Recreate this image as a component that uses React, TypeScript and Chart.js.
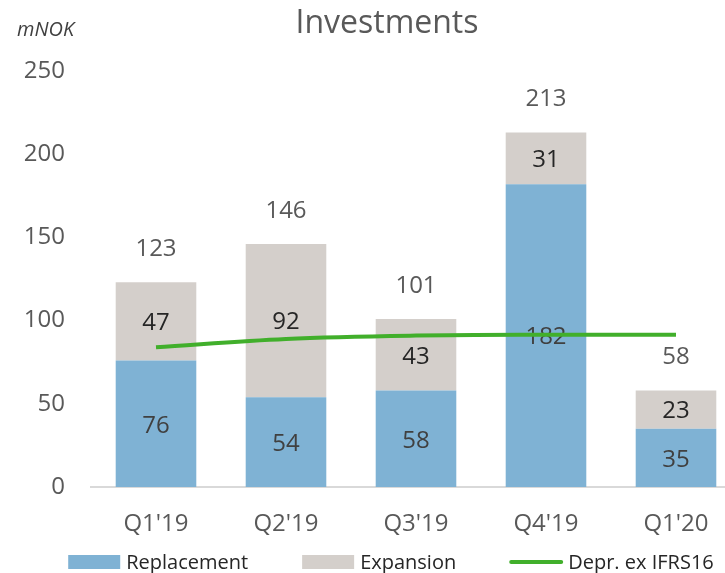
import React, { useEffect, useRef } from "react";
import { Chart, registerables } from "chart.js";

Chart.register(...registerables);

const categories = ["Q1'19", "Q2'19", "Q3'19", "Q4'19", "Q1'20"];
const replacement = [76, 54, 58, 182, 35];
const expansion = [47, 92, 43, 31, 23];
const totals = [123, 146, 101, 213, 58];
const depreciation = [84, 89, 91, 91.5, 91.5];
const yTicks = [0, 50, 100, 150, 200, 250];

const FONT = '"Open Sans", "DejaVu Sans", sans-serif';
const BLUE = "#7FB2D4";
const GREY = "#D4CFCB";
const GREEN = "#41AF2B";

const labelPlugin = {
  id: "barLabels",
  afterDatasetDraw(chart: any, args: any) {
    const ds = chart.data.datasets[args.index];
    if (ds.type === "line") return;
    const ctx = chart.ctx;
    ctx.save();
    ctx.font = `24px ${FONT}`;
    ctx.textAlign = "center";
    ctx.textBaseline = "middle";
    ctx.fillStyle = args.index === 0 ? "#404040" : "#262626";
    args.meta.data.forEach((bar: any, i: number) => {
      const p = bar.getProps(["x", "y", "base"], true);
      ctx.fillText(String(ds.data[i]), p.x, (p.y + p.base) / 2 + 2);
    });
    if (args.index === 1) {
      ctx.fillStyle = "#595959";
      args.meta.data.forEach((bar: any, i: number) => {
        const p = bar.getProps(["x", "y"], true);
        ctx.fillText(String(totals[i]), p.x, p.y - 33);
      });
    }
    ctx.restore();
  },
};

const decorPlugin = {
  id: "decor",
  afterDraw(chart: any) {
    const ctx = chart.ctx;
    ctx.save();
    // title
    ctx.font = `32px ${FONT}`;
    ctx.fillStyle = "#595959";
    ctx.textAlign = "center";
    ctx.textBaseline = "alphabetic";
    ctx.fillText("Investments", 387, 33);
    // unit
    ctx.font = `italic 20px ${FONT}`;
    ctx.fillStyle = "#404040";
    ctx.textAlign = "left";
    ctx.fillText("mNOK", 17, 36);
    // legend
    ctx.font = `20px ${FONT}`;
    ctx.textBaseline = "middle";
    const boxW = 52;
    const gapText = 6;
    const gap = 54;
    const items = chart.data.datasets.map((d: any) => ({
      label: d.label,
      color: d.type === "line" ? d.borderColor : d.backgroundColor,
      line: d.type === "line",
      w: ctx.measureText(d.label).width,
    }));
    const total =
      items.reduce((s: number, it: any) => s + boxW + gapText + it.w, 0) +
      gap * (items.length - 1);
    let x = 391 - total / 2;
    const y = 562;
    items.forEach((it: any) => {
      if (it.line) {
        ctx.strokeStyle = it.color;
        ctx.lineWidth = 4;
        ctx.lineCap = "round";
        ctx.beginPath();
        ctx.moveTo(x + 1, y);
        ctx.lineTo(x + boxW - 1, y);
        ctx.stroke();
      } else {
        ctx.fillStyle = it.color;
        ctx.fillRect(x, y - 7, boxW, 14);
      }
      ctx.fillStyle = "#262626";
      ctx.fillText(it.label, x + boxW + gapText, y + 1);
      x += boxW + gapText + it.w + gap;
    });
    ctx.restore();
  },
};

export default function App() {
  const ref = useRef<HTMLCanvasElement | null>(null);
  useEffect(() => {
    if (!ref.current) return;
    const chart = new Chart(ref.current, {
      type: "bar",
      data: {
        labels: categories,
        datasets: [
          {
            type: "bar",
            label: "Replacement",
            data: replacement,
            backgroundColor: BLUE,
            stack: "inv",
            order: 2,
            barPercentage: 0.62,
            categoryPercentage: 1,
          },
          {
            type: "bar",
            label: "Expansion",
            data: expansion,
            backgroundColor: GREY,
            stack: "inv",
            order: 2,
            barPercentage: 0.62,
            categoryPercentage: 1,
          },
          {
            type: "line",
            label: "Depr. ex IFRS16",
            data: depreciation,
            borderColor: GREEN,
            backgroundColor: GREEN,
            borderWidth: 4,
            pointRadius: 0,
            tension: 0.35,
            stack: "depr",
            order: 0,
          } as any,
        ],
      },
      options: {
        animation: false,
        responsive: true,
        maintainAspectRatio: false,
        layout: { padding: { top: 71, left: 0, right: 4, bottom: 36 } },
        plugins: {
          legend: { display: false },
          title: { display: false },
          tooltip: { enabled: false },
        },
        scales: {
          x: {
            stacked: true,
            offset: true,
            grid: { display: false, drawTicks: false },
            border: { display: true, color: "#D9D9D9", width: 2 },
            ticks: { color: "#595959", font: { family: FONT, size: 24 }, padding: 23 },
            afterFit: (s: any) => {
              s.height = 50;
            },
          },
          y: {
            stacked: true,
            min: 0,
            max: 250,
            afterBuildTicks: (s: any) => {
              s.ticks = yTicks.map((v) => ({ value: v }));
            },
            grid: { display: false, drawTicks: false },
            border: { display: false },
            ticks: { color: "#595959", font: { family: FONT, size: 24 }, padding: 26 },
            afterFit: (s: any) => {
              s.width = 91;
            },
          },
        },
      },
      plugins: [labelPlugin, decorPlugin],
    });
    return () => chart.destroy();
  }, []);
  return (
    <div style={{ position: "fixed", left: 0, top: 0, width: 725, height: 573, overflow: "hidden", background: "#fff" }}>
      <div style={{ position: "relative", width: 745, height: 573 }}>
        <canvas ref={ref} />
      </div>
    </div>
  );
}
